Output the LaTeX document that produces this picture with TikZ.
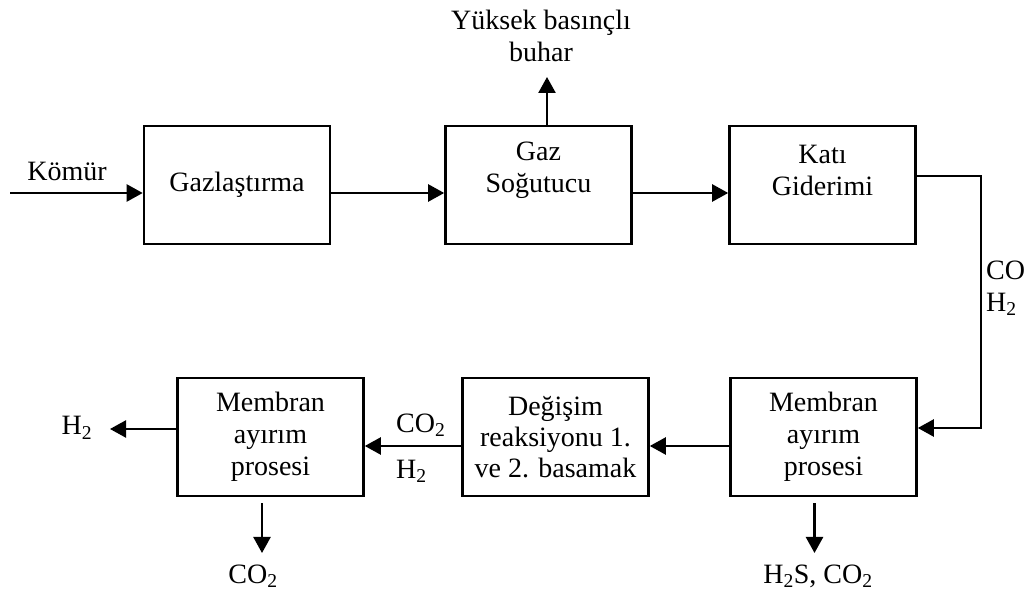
\documentclass[tikz,border=0pt]{standalone}
\usepackage{fontspec}
\setmainfont{Liberation Serif}
\usetikzlibrary{arrows.meta}
\begin{document}
\begin{tikzpicture}[x=1pt,y=-1pt,
  box/.style={draw, line width=2.6pt, minimum width=186pt, minimum height=118pt, align=center, inner sep=0pt},
  txt/.style={font=\fontsize{28}{32}\selectfont, align=center, inner sep=0pt},
  flow/.style={line width=2.4pt, -{Triangle[length=16pt,width=17pt]}}]
\useasboundingbox (0,0) rectangle (1029,593);
% top row
\node[box] (g1) at (237,185) {};
\node[txt] (g1t) at (g1.center) {Gazlaştırma};
\node[box] (g2) at (538.5,185) {};
\node[txt] (g2t) at (538.5,170) {Gaz\\Soğutucu};
\node[box] (g3) at (822.5,185) {};
\node[txt] (g3t) at (822.5,170) {Katı\\Giderimi};
% bottom row
\node[box, txt] (m1) at (270.5,437) {Membran\\ayırım\\prosesi};
\node[box, txt, font=\fontsize{28}{31}\selectfont] (d) at (555.5,437) {Değişim\\reaksiyonu 1.\\ve 2. basamak};
\node[box, txt] (m2) at (823.5,437) {Membran\\ayırım\\prosesi};
% labels
\node[txt] (komur) at (67,171) {Kömür};
\node[txt] (buhar) at (541,36) {Yüksek basınçlı\\buhar};
\node[txt, anchor=west, align=left] (coh) at (986,288) {CO\\H\textsubscript{2}};
\node[txt, anchor=west, align=left] (coh2) at (396,448) {CO\textsubscript{2}\\[14pt]H\textsubscript{2}};
\node[txt] (h2out) at (77,428) {H\textsubscript{2}};
\node[txt] (co2out) at (253,576) {CO\textsubscript{2}};
\node[txt] (h2sout) at (818,576) {H\textsubscript{2}S, CO\textsubscript{2}};
% coordinates
\coordinate (kin) at (10,193);
\coordinate (steam) at (547,77);
\coordinate (corner1) at (981,176);
\coordinate (corner2) at (981,428);
\coordinate (h2end) at (110,429);
\coordinate (co2end) at (262,553);
\coordinate (h2send) at (814.5,553);
% connectors
\draw[flow] (kin) -- (kin -| g1.west);
\draw[flow] ([yshift=-8pt]g1.east) -- ([yshift=-8pt]g2.west);
\draw[flow] ([yshift=-8pt]g2.east) -- ([yshift=-8pt]g3.west);
\draw[flow] ([xshift=8.5pt]g2.north) -- (steam);
\draw[flow] ([yshift=9pt]g3.east) -- (corner1) -- (corner2) -- (corner2 -| m2.east);
\draw[flow] ([yshift=-9pt]m2.west) -- ([yshift=-9pt]d.east);
\draw[flow] ([yshift=-9pt]d.west) -- ([yshift=-9pt]m1.east);
\draw[flow] ([yshift=8pt]m1.west) -- (h2end);
\draw[flow] ([xshift=-8.5pt,yshift=-6pt]m1.south) -- (co2end);
\draw[flow] ([xshift=-9pt,yshift=-6pt]m2.south) -- (h2send);
\end{tikzpicture}
\end{document}
